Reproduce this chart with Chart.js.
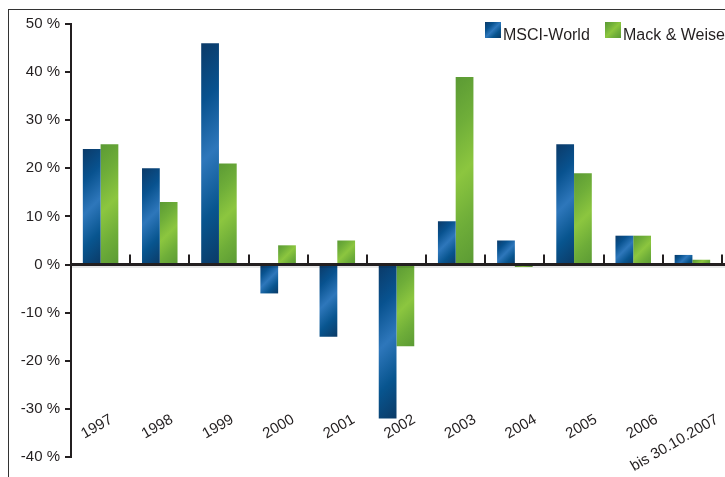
<!DOCTYPE html>
<html>
<head>
<meta charset="utf-8">
<script src="https://cdn.jsdelivr.net/npm/chart.js@4.4.0/dist/chart.umd.min.js"></script>
<style>
  html, body { margin: 0; padding: 0; background: #fff; overflow: hidden; width: 725px; height: 477px; }
  #wrap { position: relative; width: 725px; height: 477px; overflow: hidden; }
  #frame { position: absolute; left: 8px; top: 9px; width: 760px; height: 500px;
           border-top: 1.5px solid #333; border-left: 1.5px solid #333; }
  canvas { position: absolute; left: 0; top: 0; }
  .lg { position: absolute; font: 16px "Liberation Sans", Arial, sans-serif; color: #231f20;
        line-height: 16px; white-space: nowrap; }
  .sw { position: absolute; width: 16px; height: 16px; }
  .sw.blue  { background: linear-gradient(135deg, #0b3a68 0%, #08528f 28%, #2e77bb 50%, #08558f 72%, #0b3a66 100%); }
  .sw.green { background: linear-gradient(135deg, #5b9a34 0%, #72b03a 28%, #8cc63f 50%, #72b03a 72%, #5b9a34 100%); }
</style>
</head>
<body>
<div id="wrap">
  <div id="frame"></div>
  <canvas id="chart" width="725" height="477"></canvas>
  <div class="sw blue" style="left:485px;top:22px"></div>
  <div class="lg" style="left:503px;top:27px">MSCI-World</div>
  <div class="sw green" style="left:605px;top:22px"></div>
  <div class="lg" style="left:623px;top:27px">Mack &amp; Weise</div>
</div>
<script>
// Annual performance, percent
const years = ['1997', '1998', '1999', '2000', '2001', '2002', '2003', '2004', '2005', '2006', 'bis 30.10.2007'];
const msciWorld = [24, 20, 46, -6, -15, -32, 9, 5, 25, 6, 2];
const mackWeise = [25, 13, 21, 4, 5, -17, 39, -0.5, 19, 6, 1];
const seriesNames = ['MSCI-World', 'Mack & Weise'];

const INK = '#231f20';
const FONT = '"Liberation Sans", Arial, sans-serif';
const CAT_PCT = 0.6;

const blueStops = [[0, '#0b3a68'], [0.25, '#08528f'], [0.5, '#2e77bb'], [0.75, '#08558f'], [1, '#0b3a66']];
const greenStops = [[0, '#5b9a34'], [0.25, '#6fae39'], [0.5, '#8cc63f'], [0.75, '#6fae39'], [1, '#5b9a34']];

// Diagonal sheen across each individual bar, computed from the scales
function barFill(stops) {
  return (c) => {
    const chart = c.chart;
    const xs = chart.scales.x, ys = chart.scales.y;
    if (c.type !== 'data' || !xs || !ys || !chart.chartArea) return stops[2][1];
    const v = c.raw;
    const step = xs.width / years.length;
    const group = step * CAT_PCT;
    const w = group / 2;
    const left = xs.getPixelForValue(c.dataIndex) - group / 2 + c.datasetIndex * w;
    const top = ys.getPixelForValue(Math.max(v, 0));
    const bottom = ys.getPixelForValue(Math.min(v, 0));
    const s = (w + (bottom - top)) / 2;
    const g = chart.ctx.createLinearGradient(left, top, left + s, top + s);
    stops.forEach(([o, col]) => g.addColorStop(o, col));
    return g;
  };
}

// Zero line with category ticks, plus slanted year labels
const axisDecor = {
  id: 'axisDecor',
  afterDatasetsDraw(chart) {
    const { ctx, chartArea, scales: { x, y } } = chart;
    const y0 = y.getPixelForValue(0);
    const step = x.getPixelForValue(1) - x.getPixelForValue(0);
    const line = (x1, y1, x2, y2) => { ctx.beginPath(); ctx.moveTo(x1, y1); ctx.lineTo(x2, y2); ctx.stroke(); };
    ctx.save();
    ctx.strokeStyle = 'rgba(0,0,0,0.12)';
    ctx.lineWidth = 1.5;
    line(chartArea.left, y0 + 2.5, chart.width, y0 + 2.5);
    ctx.strokeStyle = INK;
    ctx.lineWidth = 3;
    line(chartArea.left, y0, chart.width, y0);
    ctx.lineWidth = 2;
    for (let i = 0; i < years.length; i++) {
      const bx = Math.round(x.getPixelForValue(i) + step / 2);
      line(bx, y0 - 10, bx, y0);
    }
    ctx.fillStyle = INK;
    ctx.font = '15px ' + FONT;
    ctx.textAlign = 'right';
    ctx.textBaseline = 'top';
    const labelTop = chartArea.bottom - 45;
    years.forEach((lab, i) => {
      ctx.save();
      ctx.translate(x.getPixelForValue(i) + 7 + 1.4 * i, labelTop);
      ctx.rotate(-Math.PI / 6);
      ctx.fillText(lab, 0, 0);
      ctx.restore();
    });
    ctx.restore();
  }
};

new Chart(document.getElementById('chart'), {
  type: 'bar',
  data: {
    labels: years,
    datasets: [
      { label: seriesNames[0], data: msciWorld, backgroundColor: barFill(blueStops),
        borderWidth: 0, categoryPercentage: CAT_PCT, barPercentage: 1 },
      { label: seriesNames[1], data: mackWeise, backgroundColor: barFill(greenStops),
        borderWidth: 0, categoryPercentage: CAT_PCT, barPercentage: 1 }
    ]
  },
  options: {
    responsive: false,
    animation: false,
    devicePixelRatio: 1,
    layout: { padding: { left: 8, top: 24, right: 3, bottom: 20 } },
    plugins: { legend: { display: false }, tooltip: { enabled: false } },
    scales: {
      x: { display: false },
      y: {
        min: -40, max: 50,
        ticks: { stepSize: 10, callback: (v) => v + ' %', color: INK, padding: 5,
                 font: { family: FONT, size: 15 } },
        grid: { drawOnChartArea: false, drawTicks: true, tickLength: 6, color: INK, lineWidth: 2 },
        border: { display: true, color: INK, width: 2 },
        afterFit(s) { s.width = 63; }
      }
    }
  },
  plugins: [axisDecor]
});
</script>
</body>
</html>
